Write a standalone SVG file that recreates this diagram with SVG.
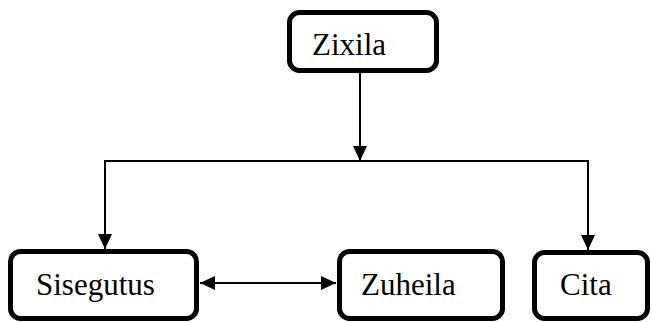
<svg xmlns="http://www.w3.org/2000/svg" width="651" height="322" viewBox="0 0 651 322">
<style>
.box{fill:#fff;stroke:#000;stroke-width:5}
.ln{fill:none;stroke:#000;stroke-width:2}
</style>
<defs>
<marker id="ah" viewBox="0 0 15 14" refX="15" refY="7" markerWidth="15" markerHeight="14" markerUnits="userSpaceOnUse" orient="auto-start-reverse">
<path d="M0,0 L15,7 L0,14 Z" fill="#000"/>
</marker>
</defs>
<rect width="651" height="322" fill="#fff"/>
<g id="connectors">
<path class="ln" d="M360,73 V161" marker-end="url(#ah)"/>
<path class="ln" d="M105,249 V161 H588 V250" marker-start="url(#ah)" marker-end="url(#ah)"/>
<path class="ln" d="M200,283 H336" marker-start="url(#ah)" marker-end="url(#ah)"/>
</g>
<g font-family="Liberation Serif, Times New Roman, serif" font-size="31" fill="#000">
<g id="zixila">
<rect class="box" x="289.5" y="12.5" width="147" height="58" rx="10"/>
<text x="312" y="55">Zixila</text>
</g>
<g id="sisegutus">
<rect class="box" x="10.5" y="251.5" width="186" height="67" rx="10"/>
<text x="36" y="295">Sisegutus</text>
</g>
<g id="zuheila">
<rect class="box" x="339.5" y="251.5" width="163" height="67" rx="10"/>
<text x="361" y="295">Zuheila</text>
</g>
<g id="cita">
<rect class="box" x="534.5" y="252.5" width="113" height="66" rx="10"/>
<text x="560" y="295">Cita</text>
</g>
</g>
</svg>
